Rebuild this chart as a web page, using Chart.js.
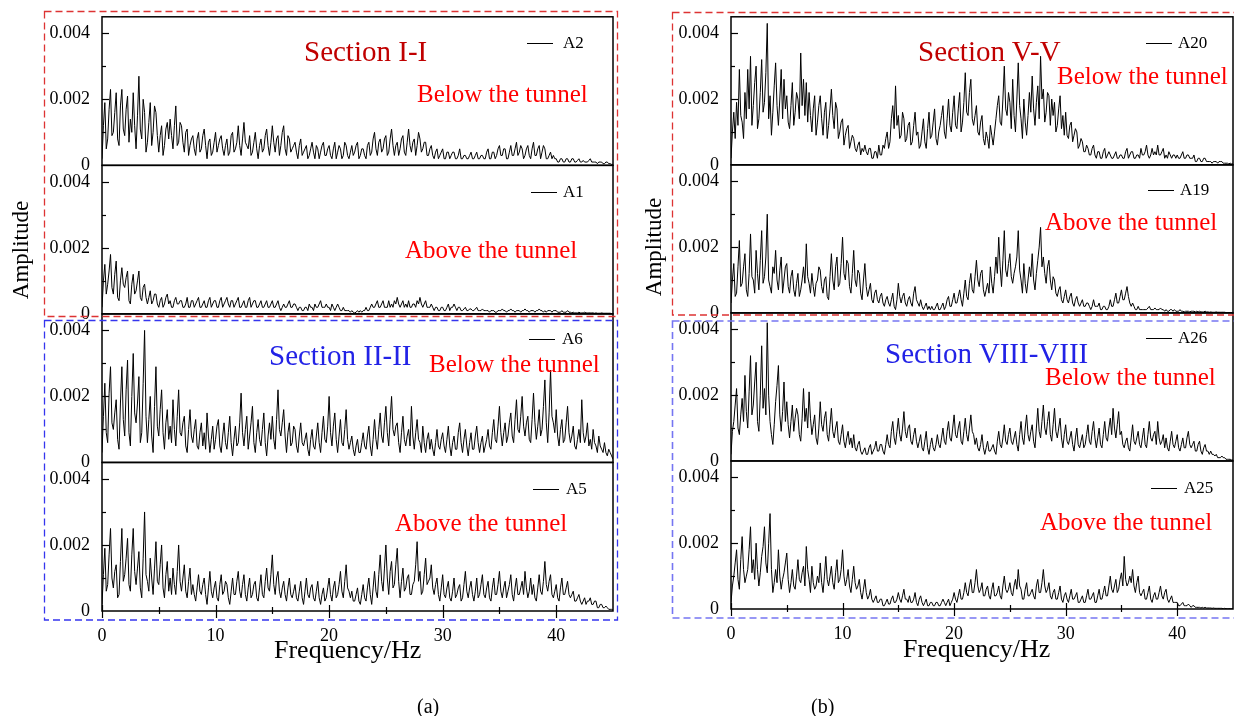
<!DOCTYPE html>
<html><head><meta charset="utf-8">
<script src="https://cdn.jsdelivr.net/npm/chart.js@4.4.1/dist/chart.umd.min.js"></script>
<style>
html,body{margin:0;padding:0;background:#fff;}
#page{position:relative;width:1234px;height:716px;overflow:hidden;background:#fff;}
canvas{position:absolute;}
.t{position:absolute;white-space:nowrap;line-height:1;font-family:"Liberation Serif","Times New Roman",serif;}
.lg{position:absolute;height:0;border-top:1.3px solid #000;}
svg{position:absolute;left:0;top:0;pointer-events:none;}
</style></head><body>
<div id="page">
<canvas id="cL" width="625" height="662" style="left:0;top:-6px;width:625px;height:662px"></canvas>
<canvas id="cR" width="605" height="660" style="left:629px;top:-6px;width:605px;height:660px"></canvas>
<svg width="1234" height="716">
  <g fill="none" stroke-dasharray="7 4">
    <rect x="44.5" y="11.5" width="573" height="305" stroke="#dd3333" stroke-width="1.3"/>
    <rect x="44.5" y="320.5" width="573" height="299.5" stroke="#3535ee" stroke-width="1.3"/>
    <rect x="672.5" y="12.5" width="570" height="302.5" stroke="#dd3333" stroke-width="1.3"/>
    <rect x="672.5" y="321" width="570" height="297" stroke="#7575f2" stroke-width="1.6"/>
  </g>
</svg>
<div class="t" style="left:304px;top:37px;font-size:29px;color:#c00000">Section I-I</div>
<div class="t" style="left:417px;top:80.5px;font-size:25px;color:#ff0000">Below the tunnel</div>
<div class="t" style="left:405px;top:236.5px;font-size:25px;color:#ff0000">Above the tunnel</div>
<div class="t" style="left:269px;top:340.5px;font-size:29px;color:#2222e6">Section II-II</div>
<div class="t" style="left:429px;top:351px;font-size:25px;color:#ff0000">Below the tunnel</div>
<div class="t" style="left:395px;top:509.5px;font-size:25px;color:#ff0000">Above the tunnel</div>
<div class="t" style="left:918px;top:36.5px;font-size:29px;color:#c00000">Section V-V</div>
<div class="t" style="left:1057px;top:62.5px;font-size:25px;color:#ff0000">Below the tunnel</div>
<div class="t" style="left:1045px;top:209px;font-size:25px;color:#ff0000">Above the tunnel</div>
<div class="t" style="left:885px;top:339px;font-size:29px;color:#2222e6">Section VIII-VIII</div>
<div class="t" style="left:1045px;top:364px;font-size:25px;color:#ff0000">Below the tunnel</div>
<div class="t" style="left:1040px;top:508.5px;font-size:25px;color:#ff0000">Above the tunnel</div>
<div class="t" style="left:20px;top:250px;font-size:23px;color:#000;transform:translate(-50%,-50%) rotate(-90deg)">Amplitude</div>
<div class="t" style="left:653px;top:247px;font-size:23px;color:#000;transform:translate(-50%,-50%) rotate(-90deg)">Amplitude</div>
<div class="t" style="left:274px;top:637px;font-size:26px;color:#000">Frequency/Hz</div>
<div class="t" style="left:903px;top:636px;font-size:26px;color:#000">Frequency/Hz</div>
<div class="t" style="left:417px;top:696px;font-size:20px;color:#000">(a)</div>
<div class="t" style="left:811px;top:696px;font-size:20px;color:#000">(b)</div>
</div>
<script>
// Frequency grid (Hz), 0.125 Hz spacing
const FREQ = [
0,0.125,0.25,0.375,0.5,0.625,0.75,0.875, 1,1.125,1.25,1.375,1.5,1.625,1.75,1.875,
2,2.125,2.25,2.375,2.5,2.625,2.75,2.875, 3,3.125,3.25,3.375,3.5,3.625,3.75,3.875,
4,4.125,4.25,4.375,4.5,4.625,4.75,4.875, 5,5.125,5.25,5.375,5.5,5.625,5.75,5.875,
6,6.125,6.25,6.375,6.5,6.625,6.75,6.875, 7,7.125,7.25,7.375,7.5,7.625,7.75,7.875,
8,8.125,8.25,8.375,8.5,8.625,8.75,8.875, 9,9.125,9.25,9.375,9.5,9.625,9.75,9.875,
10,10.125,10.25,10.375,10.5,10.625,10.75,10.875, 11,11.125,11.25,11.375,11.5,11.625,11.75,11.875,
12,12.125,12.25,12.375,12.5,12.625,12.75,12.875, 13,13.125,13.25,13.375,13.5,13.625,13.75,13.875,
14,14.125,14.25,14.375,14.5,14.625,14.75,14.875, 15,15.125,15.25,15.375,15.5,15.625,15.75,15.875,
16,16.125,16.25,16.375,16.5,16.625,16.75,16.875, 17,17.125,17.25,17.375,17.5,17.625,17.75,17.875,
18,18.125,18.25,18.375,18.5,18.625,18.75,18.875, 19,19.125,19.25,19.375,19.5,19.625,19.75,19.875,
20,20.125,20.25,20.375,20.5,20.625,20.75,20.875, 21,21.125,21.25,21.375,21.5,21.625,21.75,21.875,
22,22.125,22.25,22.375,22.5,22.625,22.75,22.875, 23,23.125,23.25,23.375,23.5,23.625,23.75,23.875,
24,24.125,24.25,24.375,24.5,24.625,24.75,24.875, 25,25.125,25.25,25.375,25.5,25.625,25.75,25.875,
26,26.125,26.25,26.375,26.5,26.625,26.75,26.875, 27,27.125,27.25,27.375,27.5,27.625,27.75,27.875,
28,28.125,28.25,28.375,28.5,28.625,28.75,28.875, 29,29.125,29.25,29.375,29.5,29.625,29.75,29.875,
30,30.125,30.25,30.375,30.5,30.625,30.75,30.875, 31,31.125,31.25,31.375,31.5,31.625,31.75,31.875,
32,32.125,32.25,32.375,32.5,32.625,32.75,32.875, 33,33.125,33.25,33.375,33.5,33.625,33.75,33.875,
34,34.125,34.25,34.375,34.5,34.625,34.75,34.875, 35,35.125,35.25,35.375,35.5,35.625,35.75,35.875,
36,36.125,36.25,36.375,36.5,36.625,36.75,36.875, 37,37.125,37.25,37.375,37.5,37.625,37.75,37.875,
38,38.125,38.25,38.375,38.5,38.625,38.75,38.875, 39,39.125,39.25,39.375,39.5,39.625,39.75,39.875,
40,40.125,40.25,40.375,40.5,40.625,40.75,40.875, 41,41.125,41.25,41.375,41.5,41.625,41.75,41.875,
42,42.125,42.25,42.375,42.5,42.625,42.75,42.875, 43,43.125,43.25,43.375,43.5,43.625,43.75,43.875,
44,44.125,44.25,44.375,44.5,44.625,44.75,44.875, 45];

// Amplitudes in units of 1e-4, 8 values per Hz
const A2 = [2,12,19,5,8,17,23,9, 10,16,22,8,6,18,23,11, 9,17,21,7,14,10,22,12, 5,15,27,11,8,20,16,4, 7,13,19,6,10,18,16,9,
  4,9,12,3,6,11,13,8, 14,9,5,12,18,6,7,13, 12,7,4,10,11,3,6,8, 9,5,3,8,10,4,5,9, 11,6,2,7,8,3,4,7,
  10,4,6,8,9,5,3,6, 8,3,4,9,10,4,5,7, 12,6,3,8,13,7,6,5, 9,3,4,7,10,5,2,6, 8,4,5,9,11,6,3,7,
  12,7,4,8,9,3,6,10, 12,5,3,9,8,4,5,6, 7,4,2,6,8,3,4,5, 6,2,3,5,7,4,2,6, 5,2,4,6,7,3,3,5,
  6,3,2,5,7,2,4,6, 5,2,3,7,6,3,2,4, 6,3,4,6,7,2,3,5, 5,3,2,6,7,3,4,8, 10,5,3,7,8,4,5,8,
  9,3,4,8,11,6,3,6, 7,3,5,8,9,4,3,7, 11,6,4,7,8,3,6,10, 8,4,5,7,7,3,3,5, 6,3,2,4,5,2,3,4,
  5,2,2,4,4,2,3,4, 4,2,2,3,5,2,2,3, 3,2,2,3,4,2,2,3, 4,2,2,3,3,2,2,4, 5,2,2,4,4,2,3,5,
  6,3,3,5,5,2,2,4, 6,3,3,5,7,3,4,6, 5,2,3,5,6,3,2,5, 7,3,3,5,6,2,4,6, 5,2,2,3,4,2,3,2,
  2,1,1,2,2,1,1,2, 2,1,1,2,2,1,1,1.5, 2,1,1,1.5,1,1,1,1.5, 2,1,1,1,1,0.5,1,1, 1,0.5,0.5,1,1,0.5,0.5,0.3, 0.3];
const A1 = [2,10,15,6,9,13,18,8, 6,12,16,5,4,10,14,9, 8,11,13,4,3,9,12,6, 7,10,13,5,4,8,9,5, 3,5,7,3,4,6,6,3,
  2,4,5,2,3,5,6,3, 4,2,2,4,5,3,3,4, 4,2,2,3,5,2,2,4, 4,2,3,4,5,2,2,3, 4,2,2,4,5,2,3,4,
  4,2,2,4,5,2,3,4, 5,3,2,4,4,2,3,4, 5,2,2,3,4,2,2,4, 5,2,3,4,4,2,2,3, 4,2,2,3,4,2,2,3,
  4,2,2,3,4,2,1,2, 3,2,2,3,4,2,2,3, 3,2,1,2,2,1,1,2, 2,1,3,2,2,1,3,2, 2,3,4,2,2,2,3,2,
  2,1,3,2,1,2,3,2, 1,1,2,1,1,1,1,0.5, 1,0.5,0.3,0.5,1,0.5,1,0.5, 1,1,2,1,1,2,3,2, 2,3,4,2,2,3,4,2,
  2,2,4,2,3,2,4,3, 5,3,2,3,4,2,3,2, 4,2,2,3,3,2,4,3, 5,3,2,3,4,2,2,2, 3,2,1,2,2,1,1,2,
  2,1,1,2,3,1,2,2, 3,2,1,2,2,1,1,1.5, 2,1,1,1.5,1.5,1,1,1.5, 2,1,1,1,1.5,1,1,1, 1,0.5,1,1,1,0.5,0.5,1,
  1,1,1.5,1,1,0.5,1,1, 1.5,1,1,0.5,1,1,1,0.5, 1,1,1.5,1,1,0.5,1,1, 1,0.5,1,1,1.5,1,1,0.5, 1,0.5,1,1,1,0.5,1,1,
  1,0.5,0.5,0.5,1,0.5,0.5,0.5, 1,0.5,0.5,0.3,0.5,0.3,0.3,0.3, 0.5,0.3,0.3,0.3,0.5,0.3,0.3,0.3, 0.3,0.3,0.3,0.2,0.3,0.2,0.2,0.2, 0.3,0.2,0.2,0.2,0.2,0.2,0.2,0.1, 0.1];
const A6 = [3,14,24,9,6,21,29,12, 10,15,19,7,4,18,29,13, 8,22,31,9,5,20,33,15, 12,18,26,6,9,24,40,14, 6,13,20,8,3,17,29,11,
  8,16,22,9,4,12,16,7, 11,6,19,10,5,14,22,9, 8,12,14,5,3,10,16,8, 6,10,13,5,4,9,12,5, 9,4,15,8,3,7,11,4,
  7,11,13,5,3,8,12,6, 4,9,14,6,2,7,11,5, 6,12,21,9,5,10,14,4, 8,12,17,6,3,9,13,7, 5,10,15,6,2,8,12,7,
  14,7,4,13,22,10,8,12, 16,8,3,9,12,5,6,11, 10,5,3,8,12,6,5,7, 9,4,2,7,10,5,4,8, 12,6,3,9,14,7,6,11,
  20,9,5,11,15,7,3,8, 13,6,5,10,16,7,4,6, 8,4,2,5,7,3,3,6, 9,5,4,8,11,5,2,7, 13,7,4,10,15,8,6,12,
  17,9,5,13,20,10,8,11, 12,6,3,9,14,7,5,8, 10,5,17,8,4,9,13,7, 6,3,11,6,3,7,9,4, 7,4,2,6,10,5,4,7,
  9,5,3,7,11,5,2,6, 8,4,4,9,12,6,3,7, 10,5,2,6,9,4,4,8, 11,6,3,6,8,3,5,7, 10,5,4,9,13,7,6,11,
  17,9,5,9,12,6,8,12, 15,8,6,13,19,10,9,14, 20,11,8,12,14,7,6,13, 21,12,7,11,16,8,10,17, 25,12,6,15,28,14,12,9,
  16,8,5,10,13,6,7,12, 17,9,6,8,11,5,4,7, 10,6,19,9,6,8,12,5, 7,4,10,6,5,3,8,5, 4,3,6,3,2,4,3,2, 1];
const A5 = [2,11,19,6,8,17,25,10, 7,12,14,4,5,15,25,9, 11,16,22,8,6,17,25,12, 8,13,18,7,4,16,30,11, 9,6,16,10,5,13,21,9,
  8,14,20,7,4,11,15,6, 10,5,13,8,5,12,20,9, 6,10,14,6,4,9,13,5, 8,5,3,7,11,6,5,8, 10,5,2,7,12,6,4,7,
  9,4,3,8,11,5,6,9, 8,4,2,6,10,5,5,9, 12,6,4,8,11,5,3,7, 10,4,5,8,9,4,3,7, 11,5,4,9,13,7,6,11,
  17,8,5,10,12,6,4,7, 9,5,3,7,10,5,4,6, 8,4,3,6,9,4,2,6, 10,5,4,7,8,4,3,6, 9,4,2,5,7,3,4,7,
  10,5,3,7,9,4,5,8, 12,6,4,9,14,7,6,4, 6,3,3,5,7,3,2,5, 8,4,3,7,10,5,2,7, 12,6,4,11,17,9,6,13,
  20,10,5,12,15,7,8,14, 19,9,4,9,13,6,7,10, 11,5,5,8,9,14,21,9, 12,5,6,11,16,8,9,10, 14,7,5,8,10,5,3,7,
  11,5,4,7,9,4,3,6, 10,4,5,7,8,3,4,8, 12,6,4,7,9,5,3,6, 10,4,5,8,11,5,4,7, 9,4,3,7,10,5,5,8,
  12,6,4,7,9,4,6,8, 11,5,3,7,10,5,5,7, 9,5,12,7,4,6,10,5, 8,4,3,7,11,6,5,9, 15,8,6,9,11,5,4,6,
  8,4,3,7,10,5,5,7, 9,5,4,5,6,3,3,4, 5,3,2,3,4,2,3,3, 4,2,2,3,3,1,1,2, 2,1,1,1.5,1,0.5,0.5,0.5, 0.3];
const A20 = [2,10,16,8,19,12,29,15, 13,8,22,14,29,17,33,12, 18,25,30,11,14,22,32,16, 19,28,43,14,21,9,16,24, 31,18,12,20,29,14,26,17,
  21,13,11,18,25,12,16,22, 20,14,34,18,26,15,25,13, 22,15,10,17,21,9,13,18, 21,14,9,16,19,8,12,17, 23,15,11,19,17,8,10,13,
  14,6,9,11,12,5,7,9, 8,5,4,6,7,3,5,4, 6,4,3,5,5,2,2,4, 4,2,6,3,3,6,5,8, 10,5,7,14,18,11,24,12,
  15,8,9,16,14,7,8,12, 13,6,7,12,16,9,10,5, 6,10,14,7,5,11,16,8, 9,13,17,8,6,10,12,15, 18,10,8,14,20,12,10,16,
  21,12,11,17,22,10,13,19, 28,16,15,22,26,14,12,15, 18,10,9,13,15,8,6,10, 8,5,12,9,6,10,14,18, 21,13,12,20,30,17,15,22,
  19,11,26,15,10,20,31,18, 14,8,20,13,9,15,22,16, 27,17,12,19,24,14,33,20, 23,13,16,22,21,12,20,15, 19,10,12,17,21,11,15,9,
  16,9,8,12,13,7,9,11, 10,5,6,8,7,4,4,6, 5,3,3,5,6,3,2,4, 4,2,2,4,5,2,3,4, 3,2,2,3,4,2,2,3,
  3,2,2,4,5,2,3,4, 4,2,2,3,3,2,5,3, 3,4,6,3,2,3,5,3, 4,3,6,3,3,4,5,2, 3,2,4,3,2,3,3,2,
  3,2,2,3,4,2,2,3, 3,2,2,2,3,1,1,2, 2,1,1,2,2,1,1,1, 1,0.5,1,1,1,0.5,1,1, 1,0.5,0.5,0.5,0.5,0.3,0.5,0.3, 0.3];
const A19 = [3,10,15,5,6,14,22,8, 9,14,18,7,5,12,24,11, 10,6,19,12,7,16,25,9, 11,17,30,10,8,6,14,12, 19,10,7,13,17,6,10,14,
  15,8,6,11,13,7,5,9, 12,5,7,10,14,9,21,11, 9,6,12,8,5,9,10,14, 13,8,6,10,11,5,4,11, 18,10,7,14,17,8,9,15,
  23,12,10,16,15,8,6,12, 19,10,8,13,12,6,4,10, 15,8,5,7,9,4,3,6, 7,4,3,5,6,3,2,4, 5,3,2,4,6,2,1,4,
  9,5,3,5,6,3,2,4, 5,3,2,6,8,4,3,2, 4,2,1,2,3,1,2,1, 2,1,1,2,3,1,1,2, 3,1,2,4,5,2,2,4,
  6,3,3,5,7,4,2,6, 10,5,4,9,12,7,6,11, 16,10,8,12,13,7,5,7, 9,6,14,9,6,11,17,12, 23,14,8,16,25,13,11,15,
  18,11,9,12,14,17,25,13, 10,6,15,9,6,10,14,11, 18,10,7,12,16,20,26,14, 17,12,9,14,16,10,7,11, 10,6,5,7,8,4,3,5,
  7,4,3,5,6,3,2,4, 5,3,2,3,4,2,2,3, 3,2,1,2,4,2,2,2, 3,1,1,2,2,1,1,2, 4,2,2,4,6,3,3,5,
  7,4,4,6,8,5,3,2, 3,2,1,1,2,1,1,1, 1,1,1,1.5,2,1,1,1, 1.5,1,1,1,1.5,1,1,0.5, 1,0.5,0.5,1,1,0.5,1,0.5,
  0.5,0.5,1,0.5,0.5,0.3,0.5,0.5, 0.5,0.3,0.5,0.5,0.5,0.3,0.5,0.3, 0.5,0.3,0.3,0.3,0.5,0.3,0.3,0.2, 0.3,0.2,0.2,0.2,0.3,0.2,0.2,0.2, 0.2,0.2,0.2,0.1,0.1,0.1,0.1,0.1, 0.1];
const A26 = [2,9,12,17,22,10,8,14, 19,12,26,15,10,21,32,14, 17,24,30,12,9,20,35,16, 22,14,42,20,12,8,5,11, 18,23,29,14,9,15,24,12,
  18,11,7,12,17,9,13,16, 14,8,6,13,22,12,16,10, 21,13,8,11,14,7,5,10, 18,11,9,13,15,8,6,11, 16,9,7,10,12,6,5,8,
  11,6,4,7,9,5,7,4, 8,4,3,5,6,3,2,3, 4,2,2,4,5,2,3,4, 6,3,3,5,5,3,2,5, 8,5,4,9,12,7,5,9,
  13,8,6,10,15,9,7,10, 11,6,5,8,10,6,4,6, 8,4,3,6,9,4,2,5, 7,4,3,5,8,5,4,7, 10,6,5,9,12,7,6,10,
  14,8,7,10,12,6,5,9, 13,8,6,10,14,9,8,5, 7,4,3,5,8,4,2,4, 6,3,3,4,5,3,2,6, 9,5,4,7,11,6,5,8,
  10,6,5,7,9,5,3,8, 12,7,5,10,14,8,6,9, 11,6,4,10,16,9,7,12, 17,10,8,12,15,8,6,11, 16,9,7,10,13,7,4,8,
  11,6,5,7,9,5,3,7, 10,5,4,6,8,4,5,8, 11,6,5,9,12,7,4,7, 10,5,4,8,12,7,6,10, 13,8,16,10,7,11,15,8,
  9,5,4,6,7,4,3,7, 11,6,5,7,9,5,4,7, 10,5,4,8,12,7,6,8, 9,5,12,7,5,6,8,4, 7,4,3,6,9,5,4,6,
  8,4,3,5,7,4,4,7, 9,5,4,5,6,3,3,5, 6,3,2,4,5,3,3,2, 3,2,2,1.5,2,1,1,1, 1.5,1,1,0.5,0.5,0.5,0.5,0.3, 0.3];
const A25 = [2,7,10,14,18,9,6,15, 22,12,8,10,12,18,25,11, 15,9,20,12,7,11,16,19, 25,14,11,20,29,12,5,8, 12,8,18,10,6,9,11,14,
  17,9,5,8,12,7,6,10, 15,9,8,11,13,7,19,12, 9,5,13,8,6,7,10,8, 14,8,5,10,16,9,7,10, 13,8,6,11,15,8,9,12,
  18,10,7,9,12,7,5,9, 13,8,6,7,9,5,3,6, 9,5,3,4,6,3,2,3, 4,2,2,3,3,1,1,2, 3,1.5,1.5,3,4,2,2,3,
  5,3,2,4,6,3,3,2, 4,2,2,3,5,2,1,3, 4,2,1,2,3,1,1,2, 2,1,1,2,2,1,1,2, 3,2,1,2,3,1,2,3,
  5,3,2,4,6,3,3,5, 8,5,4,7,9,5,5,8, 12,7,5,6,8,4,4,6, 7,4,3,6,8,4,4,5, 7,4,3,7,10,6,5,6,
  8,5,4,7,9,6,12,7, 6,3,3,6,8,4,4,5, 6,4,3,7,9,5,5,8, 12,7,5,6,8,4,3,5, 6,3,3,5,7,3,2,4,
  5,3,2,4,6,3,3,4, 5,2,2,3,4,2,2,4, 6,3,3,4,5,2,2,4, 6,3,3,5,7,4,4,7, 10,6,5,7,9,5,6,9,
  11,7,16,9,7,8,10,8, 12,7,5,8,10,5,4,5, 6,3,3,5,7,3,2,4, 5,3,3,5,7,4,3,5, 6,3,2,3,4,2,2,2,
  2,1,1,1.5,2,1,1,1, 1.5,1,0.5,1,1,0.5,0.5,0.5, 0.5,0.3,0.5,0.3,0.5,0.3,0.3,0.3, 0.3,0.2,0.3,0.2,0.2,0.2,0.2,0.2, 0.2,0.1,0.2,0.1,0.1,0.1,0.1,0.1, 0.1];

const UNIT = 1e-4;
const LEFT_LABELS = ['A2','A1','A6','A5'];
const RIGHT_LABELS = ['A20','A19','A26','A25'];
const LEFT_SERIES = [A2, A1, A6, A5];
const RIGHT_SERIES = [A20, A19, A26, A25];
const Y_TICKS = [0, 0.001, 0.002, 0.003, 0.004];
const Y_TICK_LABELS = ['0', '', '0.002', '', '0.004'];
const X_TICKS = [0, 10, 20, 30, 40];
const X_TICK_LABELS = ['0', '10', '20', '30', '40'];
const X_MINOR = [5, 15, 25, 35];
const Y_MAX = 0.0045, X_MAX = 45;

Chart.defaults.font.family = '"Liberation Serif", "Times New Roman", serif';
Chart.defaults.color = '#000';

const framePlugin = {
  id: 'frames',
  afterDatasetsDraw(chart) {
    const ctx = chart.ctx, ca = chart.chartArea;
    ctx.save();
    ctx.strokeStyle = '#000';
    ['y1','y2','y3','y4'].forEach(id => {
      const s = chart.scales[id];
      ctx.lineWidth = 1.2;
      Y_TICKS.forEach((v, k) => {
        if (v === 0) return;
        const py = Math.round(s.getPixelForValue(v)) + 0.5;
        const len = Y_TICK_LABELS[k] ? 7 : 4;
        ctx.beginPath(); ctx.moveTo(ca.left, py); ctx.lineTo(ca.left + len, py); ctx.stroke();
      });
      ctx.lineWidth = 1.5;
      ctx.strokeRect(ca.left, s.top, ca.right - ca.left, s.bottom - s.top);
    });
    const xs = chart.scales.x, b = ca.bottom;
    ctx.lineWidth = 1.2;
    X_TICKS.forEach(v => {
      const px = Math.round(xs.getPixelForValue(v)) + 0.5;
      ctx.beginPath(); ctx.moveTo(px, b - 6); ctx.lineTo(px, b + 7); ctx.stroke();
    });
    X_MINOR.forEach(v => {
      const px = Math.round(xs.getPixelForValue(v)) + 0.5;
      ctx.beginPath(); ctx.moveTo(px, b - 4); ctx.lineTo(px, b + 3); ctx.stroke();
    });
    ctx.restore();
  }
};

function yScale(weight) {
  return {
    type: 'linear', position: 'left', stack: 'col', stackWeight: 1, weight: weight,
    min: 0, max: Y_MAX,
    afterBuildTicks: s => { s.ticks = Y_TICKS.map(v => ({ value: v })); },
    afterFit: s => { s.width = 102; },
    grid: { display: false, drawTicks: false }, border: { display: false },
    ticks: { padding: 12, autoSkip: false, font: { size: 18 }, color: '#000',
      callback: (v, i) => Y_TICK_LABELS[i] }
  };
}

function makeChart(id, labels, seriesList, padRight) {
  const ids = ['y1','y2','y3','y4'];
  const datasets = seriesList.map((vals, k) => ({
    label: labels[k],
    data: vals.map((v, i) => ({ x: FREQ[i], y: v * UNIT })),
    yAxisID: ids[k],
    borderColor: '#000', borderWidth: 1, pointRadius: 0, tension: 0, fill: false
  }));
  return new Chart(document.getElementById(id), {
    type: 'line',
    data: { datasets },
    options: {
      responsive: false, animation: false, events: [],
      layout: { padding: { top: 17, left: 0, right: padRight, bottom: 0 } },
      plugins: { legend: { display: false }, tooltip: { enabled: false } },
      scales: {
        x: { type: 'linear', position: 'bottom', min: 0, max: X_MAX,
          afterBuildTicks: s => { s.ticks = X_TICKS.map(v => ({ value: v })); },
          afterFit: s => { s.height = 45; },
          grid: { display: false, drawTicks: false }, border: { display: false },
          ticks: { padding: 14, autoSkip: false, maxRotation: 0, font: { size: 18 }, color: '#000',
            callback: (v, i) => X_TICK_LABELS[i] } },
        y1: yScale(4), y2: yScale(3), y3: yScale(2), y4: yScale(1)
      }
    },
    plugins: [framePlugin]
  });
}

makeChart('cL', LEFT_LABELS, LEFT_SERIES, 12);
makeChart('cR', RIGHT_LABELS, RIGHT_SERIES, 1);

// legends (short line + series name) inside each panel, top right
const LEGEND_POS_LEFT = [[527, 43, 563], [531, 192, 563], [529, 339, 562], [533, 489, 566]];
const LEGEND_POS_RIGHT = [[1146, 43, 1178], [1148, 190, 1180], [1146, 338, 1178], [1151, 488, 1184]];
const page = document.getElementById('page');
function addLegend(labels, pos) {
  labels.forEach((lab, k) => {
    const [lx, ly, tx] = pos[k];
    const ln = document.createElement('div');
    ln.className = 'lg';
    ln.style.left = lx + 'px'; ln.style.top = ly + 'px'; ln.style.width = '26px';
    page.appendChild(ln);
    const t = document.createElement('div');
    t.className = 't';
    t.style.left = tx + 'px'; t.style.top = (ly - 9) + 'px'; t.style.fontSize = '17px'; t.style.color = '#000';
    t.textContent = lab;
    page.appendChild(t);
  });
}
addLegend(LEFT_LABELS, LEGEND_POS_LEFT);
addLegend(RIGHT_LABELS, LEGEND_POS_RIGHT);
</script>
</body></html>
